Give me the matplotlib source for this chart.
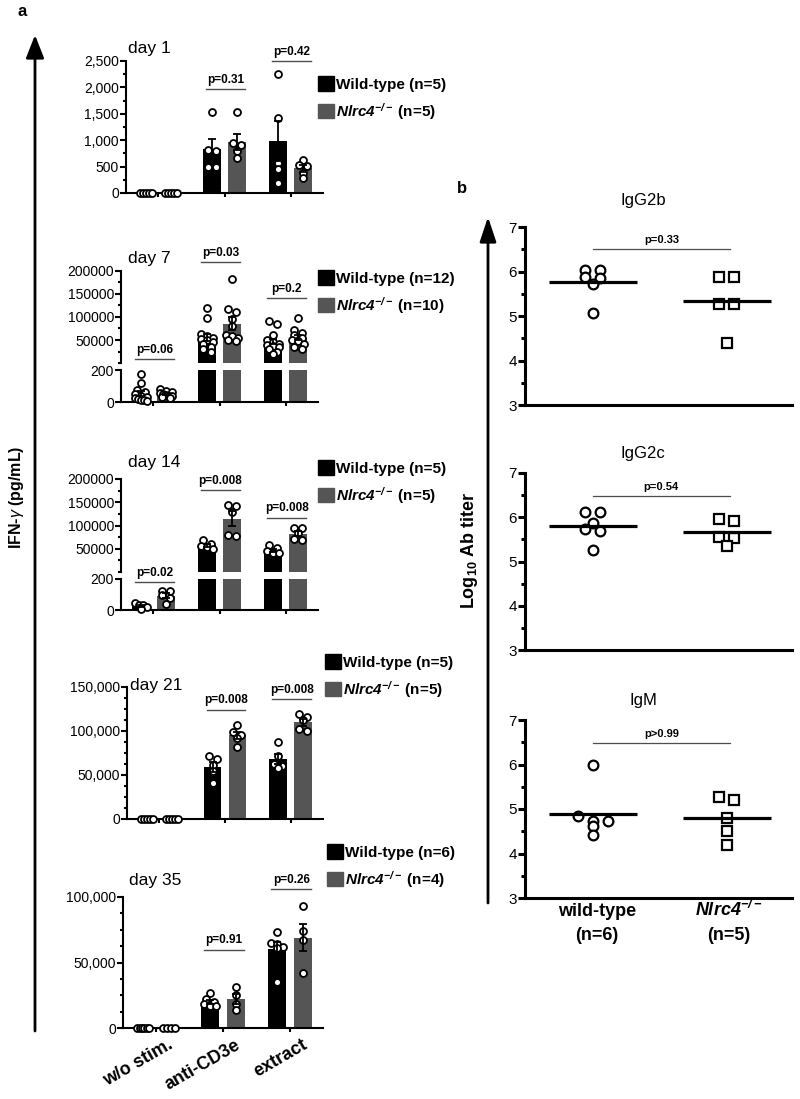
import numpy as np
import matplotlib
matplotlib.use('Agg')
import matplotlib.pyplot as plt
from matplotlib.patches import Patch, FancyArrowPatch
from matplotlib.ticker import MultipleLocator, FixedLocator, FuncFormatter
from matplotlib.transforms import ScaledTranslation

plt.rcParams['font.family'] = ['Liberation Sans', 'DejaVu Sans']
plt.rcParams['mathtext.fontset'] = 'custom'
plt.rcParams['mathtext.rm'] = 'Liberation Sans'
plt.rcParams['mathtext.it'] = 'Liberation Sans:italic'
plt.rcParams['mathtext.bf'] = 'Liberation Sans:bold'
plt.rcParams['mathtext.bfit'] = 'Liberation Sans:bold:italic'

# ---------------- data ----------------
stims = ['w/o stim.', 'anti-CD3e', 'extract']

# panel a: IFN-gamma (pg/mL), one list per stimulation
day1_wt = [[0, 0, 0, 0, 0], [1540, 820, 800, 500, 500], [2250, 1420, 560, 460, 190]]
day1_ko = [[0, 0, 0, 0, 0], [1540, 950, 900, 800, 670], [630, 530, 520, 370, 280]]
day1_p = [None, 'p=0.31', 'p=0.42']
day1_py = [None, 1970, 2500]

day7_wt = [[175, 116, 75, 60, 50, 40, 30, 25, 20, 15, 10, 5],
           [120000, 98000, 62000, 58000, 55000, 52000, 50000, 45000, 42000, 35000, 30000, 25000],
           [92000, 85000, 60000, 50000, 45000, 42000, 40000, 38000, 35000, 30000, 25000, 20000]]
day7_ko = [[84, 70, 60, 55, 50, 45, 40, 35, 30, 25],
           [182000, 118000, 110000, 95000, 80000, 60000, 58000, 55000, 50000, 48000],
           [97000, 72000, 65000, 60000, 55000, 50000, 48000, 42000, 35000, 30000]]
day7_p = ['p=0.06', 'p=0.03', 'p=0.2']
day7_py = [8000, 219000, 140600]

day14_wt = [[45, 35, 30, 20, 5], [69000, 61000, 56000, 54000, 50000], [57000, 52000, 45000, 41000, 40000]]
day14_ko = [[125, 120, 95, 80, 40], [145000, 143000, 130000, 80000, 77000], [95000, 94000, 84000, 71000, 69000]]
day14_p = ['p=0.02', 'p=0.008', 'p=0.008']
day14_py = [180, 176000, 117000]

day21_wt = [[0, 0, 0, 0, 0], [72000, 68000, 61000, 54000, 41000], [87000, 72000, 63000, 60000, 58000]]
day21_ko = [[0, 0, 0, 0, 0], [107000, 99000, 95000, 92000, 82000], [119000, 116000, 112000, 102000, 100000]]
day21_p = [None, 'p=0.008', 'p=0.008']
day21_py = [None, 124000, 136000]

day35_wt = [[0, 0, 0, 0, 0, 0], [27000, 22000, 20000, 18500, 16500, 16500], [73000, 65000, 64000, 62000, 61000, 35000]]
day35_ko = [[0, 0, 0, 0], [31000, 25000, 18500, 14000], [93000, 74000, 67000, 42000]]
day35_p = [None, 'p=0.91', 'p=0.26']
day35_py = [None, 59600, 106000]

# panel b: log10 antibody titers
titer_names = ['IgG2b', 'IgG2c', 'IgM']
titer_wt = [[6.04, 6.03, 5.88, 5.86, 5.73, 5.07],
            [6.11, 6.11, 5.88, 5.73, 5.68, 5.26],
            [6.00, 4.85, 4.74, 4.74, 4.61, 4.42]]
titer_ko = [[5.88, 5.88, 5.28, 5.28, 4.40],
            [5.96, 5.91, 5.55, 5.53, 5.34],
            [5.28, 5.21, 4.79, 4.50, 4.20]]
titer_p = ['p=0.33', 'p=0.54', 'p>0.99']
titer_py = [6.51, 6.47, 6.49]

KO_GREY = '#555555'
KO_LABEL = r'$\mathbfit{Nlrc4}^{\mathbfit{-/-}}$'

W, H = 800, 1099
fig = plt.figure(figsize=(W / 100, H / 100), dpi=100)


def px_ax(l, t, r, b):
    return fig.add_axes([l / W, 1 - b / H, (r - l) / W, (b - t) / H])


def ftext(x, y, s, **kw):
    return fig.text(x / W, 1 - y / H, s, **kw)


def style(ax, lw=1.5, size=10):
    for s in ['top', 'right']:
        ax.spines[s].set_visible(False)
    ax.spines['left'].set_linewidth(lw)
    ax.spines['bottom'].set_linewidth(lw)
    ax.tick_params(width=lw, length=4, labelsize=size, pad=1)
    ax.tick_params(which='minor', width=lw, length=2.5)


def swarm(ax, vals, step_px, span_px, tol_px):
    # simple centred-row beeswarm, worked out in pixels
    vals = np.asarray(vals, float)
    ys = ax.transData.transform(np.column_stack([np.zeros(len(vals)), vals]))[:, 1]
    order = np.argsort(-vals, kind='stable')
    offs = np.zeros(len(vals))
    i = 0
    while i < len(order):
        row = [order[i]]
        j = i + 1
        while j < len(order) and abs(ys[order[j]] - ys[order[i]]) < tol_px:
            row.append(order[j])
            j += 1
        k = len(row)
        st = min(step_px, span_px / max(k - 1, 1))
        for m, idx in enumerate(row):
            offs[idx] = (m - (k - 1) / 2) * st
        i = j
    ppu = ax.transData.transform((1, 0))[0] - ax.transData.transform((0, 0))[0]
    return offs / ppu


def draw_day(axes, split, wt, ko, ptxt, py):
    def pick(v):
        if split is not None and v <= split:
            return axes[-1]
        return axes[0]

    for g in range(3):
        for vals, off, col in [(wt[g], -0.19, 'black'), (ko[g], 0.19, KO_GREY)]:
            vals = np.asarray(vals, float)
            m = vals.mean()
            se = vals.std(ddof=1) / np.sqrt(len(vals))
            x = g + off
            for ax in axes:
                ax.bar(x, m, width=0.27, color=col, zorder=1)
            if m > 0:
                pick(m + se).errorbar(x, m, yerr=se, fmt='none', ecolor='black',
                                      elinewidth=1.3, capsize=3, capthick=1.3, zorder=4)
            for ax in axes:
                sel = np.array([pick(v) is ax for v in vals])
                if not sel.any():
                    continue
                dx = swarm(ax, vals[sel], 8, 12, 4)
                ax.plot(x + dx, vals[sel], 'o', ms=5, mfc='white', mec='black',
                        mew=1.3, zorder=3, clip_on=False)
        if ptxt[g] is not None:
            ax = pick(py[g])
            ax.plot([g - 0.28, g + 0.31], [py[g], py[g]], color='0.3', lw=1,
                    clip_on=False, zorder=5)
            ax.annotate(ptxt[g], (g + 0.015, py[g]), xytext=(0, 2.5),
                        textcoords='offset points', ha='center', va='bottom',
                        fontsize=8.5, fontweight='bold', annotation_clip=False)


def finish_x(ax, labels=False):
    ax.set_xlim(-0.49, 2.49)
    ax.set_xticks([0, 1, 2])
    ax.tick_params(axis='x', length=3)
    if labels:
        ax.set_xticklabels(stims, rotation=30, ha='right', rotation_mode='anchor',
                           fontsize=13, fontweight='bold')
        for lab in ax.get_xticklabels():
            lab.set_transform(lab.get_transform() + ScaledTranslation(0.12, -0.03, fig.dpi_scale_trans))
    else:
        ax.set_xticklabels([])


comma = FuncFormatter(lambda v, p: f'{int(v):,}')
plain = FuncFormatter(lambda v, p: f'{int(v)}')


def legend(x, y, n1, n2):
    h = [Patch(color='black'), Patch(color=KO_GREY)]
    fig.legend(h, [f'Wild-type (n={n1})', KO_LABEL + f' (n={n2})'],
               loc='upper left', bbox_to_anchor=(x / W, 1 - y / H), frameon=False,
               borderpad=0, borderaxespad=0, handlelength=1.05, handleheight=1.1,
               handletextpad=0.15, labelspacing=0.6,
               prop=dict(weight='bold', size=11))


# ---------------- panel a ----------------
# day 1
ax = px_ax(126, 61, 323, 193)
style(ax)
ax.set_ylim(0, 2500)
ax.yaxis.set_major_locator(MultipleLocator(500))
ax.yaxis.set_minor_locator(MultipleLocator(250))
ax.yaxis.set_major_formatter(comma)
finish_x(ax)
draw_day([ax], None, day1_wt, day1_ko, day1_p, day1_py)
ftext(128, 53, 'day 1', fontsize=12.5)
legend(318, 76, 5, 5)

# day 7 and day 14, broken axes
for (t0, b0, t1, b1), wt, ko, pt, py, title, ty, ly, ns in [
        ((271, 363, 370, 402), day7_wt, day7_ko, day7_p, day7_py, 'day 7', 263, 270, (12, 10)),
        ((479, 572, 579, 610), day14_wt, day14_ko, day14_p, day14_py, 'day 14', 467, 460, (5, 5))]:
    top = px_ax(121, t0, 318, b0)
    bot = px_ax(121, t1, 318, b1)
    style(top)
    style(bot)
    top.spines['bottom'].set_visible(False)
    top.tick_params(axis='x', bottom=False, labelbottom=False)
    top.set_xlim(-0.49, 2.49)
    top.set_ylim(0, 200000)
    top.yaxis.set_major_locator(FixedLocator([50000, 100000, 150000, 200000]))
    top.yaxis.set_minor_locator(MultipleLocator(25000))
    top.yaxis.set_major_formatter(plain)
    bot.set_ylim(0, 200)
    bot.set_yticks([0, 200])
    finish_x(bot)
    draw_day([top, bot], 200, wt, ko, pt, py)
    ftext(128, ty, title, fontsize=12.5)
    legend(318, ly, *ns)

# day 21
ax = px_ax(127, 687, 323, 819)
style(ax)
ax.set_ylim(0, 150000)
ax.yaxis.set_major_locator(MultipleLocator(50000))
ax.yaxis.set_minor_locator(MultipleLocator(12500))
ax.yaxis.set_major_formatter(comma)
finish_x(ax)
draw_day([ax], None, day21_wt, day21_ko, day21_p, day21_py)
ftext(130, 690, 'day 21', fontsize=12.5)
legend(325, 654, 5, 5)

# day 35
ax = px_ax(123, 897, 323, 1028)
style(ax)
ax.set_ylim(0, 100000)
ax.yaxis.set_major_locator(MultipleLocator(50000))
ax.yaxis.set_minor_locator(MultipleLocator(12500))
ax.yaxis.set_major_formatter(comma)
finish_x(ax, labels=True)
draw_day([ax], None, day35_wt, day35_ko, day35_p, day35_py)
ftext(129, 885, 'day 35', fontsize=12.5)
legend(327, 844, 6, 4)

ftext(18, 16, 'a', fontsize=12, fontweight='bold')
ftext(17, 497, r'IFN-$\gamma$ (pg/mL)', rotation=90, ha='center', va='center',
      fontsize=11.5, fontweight='bold')
fig.add_artist(FancyArrowPatch((35 / W, 1 - 1031 / H), (35 / W, 1 - 35 / H),
                               transform=fig.transFigure, arrowstyle='-|>,head_length=14,head_width=5.5',
                               mutation_scale=1, lw=2, color='black', shrinkA=0, shrinkB=0))

# ---------------- panel b ----------------
b_rows = [(227, 405, 205), (473, 650, 458), (720, 898, 705)]
for i, (t, b, ty) in enumerate(b_rows):
    ax = px_ax(525, t, 792, b)
    style(ax, lw=2.2, size=11)
    ax.set_xlim(-0.507, 1.485)
    ax.set_ylim(3, 7)
    ax.yaxis.set_major_locator(MultipleLocator(1))
    ax.yaxis.set_minor_locator(MultipleLocator(0.5))
    ax.tick_params(axis='y', length=5)
    ax.tick_params(axis='y', which='minor', length=3)
    ax.set_xticks([])
    for x, vals, mk, ms in [(0, titer_wt[i], 'o', 7), (1, titer_ko[i], 's', 6.5)]:
        vals = np.asarray(vals, float)
        dx = swarm(ax, vals, 15, 30, 5)
        ax.plot(x + dx, vals, mk, ms=ms, mfc='white', mec='black', mew=1.6,
                zorder=3, clip_on=False)
        ax.hlines(vals.mean(), x - 0.33, x + 0.33, color='black', lw=2.3, zorder=4)
    ax.plot([0, 1.02], [titer_py[i], titer_py[i]], color='0.3', lw=0.9)
    ax.annotate(titer_p[i], (0.51, titer_py[i]), xytext=(0, 3), textcoords='offset points',
                ha='center', va='bottom', fontsize=8, fontweight='bold')
    ftext(643, ty, titer_names[i], fontsize=12, ha='center')

# group labels under the IgM plot
for x, name, n in [(597, 'wild-type', '(n=6)'), (729, KO_LABEL, '(n=5)')]:
    ftext(x, 916, name, fontsize=13, fontweight='bold', ha='center', va='baseline')
    ftext(x, 940, n, fontsize=13, fontweight='bold', ha='center', va='baseline')

ftext(457, 193, 'b', fontsize=12, fontweight='bold')
ftext(470, 550, r'Log$_{\mathbf{10}}$ Ab titer', rotation=90, ha='center', va='center',
      fontsize=13, fontweight='bold')
fig.add_artist(FancyArrowPatch((488 / W, 1 - 903 / H), (488 / W, 1 - 217 / H),
                               transform=fig.transFigure, arrowstyle='-|>,head_length=15,head_width=5',
                               mutation_scale=1, lw=2, color='black', shrinkA=0, shrinkB=0))

fig.savefig('out.png', dpi=100)
